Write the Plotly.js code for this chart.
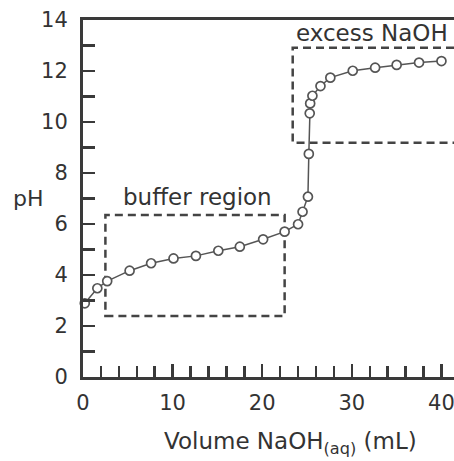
<!DOCTYPE html>
<html>
<head>
<meta charset="utf-8">
<script src="https://cdn.plot.ly/plotly-3.0.1.min.js"></script>
<style>html,body{margin:0;padding:0;background:#fff;}#chart{width:454px;height:461px;}</style>
</head>
<body>
<div id="chart"></div>
<script>
// Titration data
const volume = [0.2, 1.6, 2.7, 5.2, 7.6, 10.1, 12.6, 15.1, 17.5, 20.1, 22.5, 24.0, 24.5, 25.1, 25.2, 25.3, 25.35, 25.6, 26.5, 27.6, 30.1, 32.6, 35.0, 37.5, 40.0];
const pH     = [2.89, 3.48, 3.76, 4.17, 4.46, 4.65, 4.75, 4.95, 5.11, 5.40, 5.70, 5.99, 6.48, 7.07, 8.75, 10.34, 10.73, 11.03, 11.41, 11.74, 12.01, 12.13, 12.24, 12.33, 12.39];

// Region boxes: [xLeft, xRight, yBottom, yTop]
const bufferBox = [2.5, 22.5, 2.39, 6.35];
const excessBox = [23.4, 41.4, 9.19, 12.91];

const textColor = '#333333';
const lineColor = '#3a3a3a';
const fontFam = '"DejaVu Sans", sans-serif';

const trace = {
  x: volume, y: pH, type: 'scatter', mode: 'lines+markers',
  line: {color: '#555555', width: 1.5},
  marker: {symbol: 'circle', size: 9, color: '#ffffff', line: {color: '#555555', width: 1.7}},
  cliponaxis: false, hoverinfo: 'skip'
};

const dash = '8px,5px';
const layout = {
  width: 454, height: 461,
  margin: {l: 83, r: 0, t: 20, b: 84, pad: 0},
  paper_bgcolor: '#ffffff', plot_bgcolor: '#ffffff',
  showlegend: false,
  font: {family: fontFam, color: textColor, size: 21},
  xaxis: {
    range: [0, 41.4], showgrid: false, zeroline: false,
    showline: true, linecolor: lineColor, linewidth: 3, mirror: true,
    tickmode: 'linear', tick0: 0, dtick: 10,
    ticks: 'inside', ticklen: 13, tickwidth: 2.5, tickcolor: lineColor,
    ticklabelstandoff: 5, ticklabeloverflow: 'allow',
    minor: {tick0: 0, dtick: 2, ticks: 'inside', ticklen: 11, tickwidth: 2.5, tickcolor: lineColor},
    tickfont: {size: 21, color: textColor, family: fontFam}
  },
  yaxis: {
    range: [0, 14], showgrid: false, zeroline: false,
    showline: true, linecolor: lineColor, linewidth: 3, mirror: false,
    tickmode: 'linear', tick0: 0, dtick: 2,
    ticks: 'inside', ticklen: 12, tickwidth: 2.5, tickcolor: lineColor,
    ticklabelstandoff: 8,
    minor: {tick0: 0, dtick: 1, ticks: 'inside', ticklen: 12, tickwidth: 2.5, tickcolor: lineColor},
    tickfont: {size: 21, color: textColor, family: fontFam}
  },
  shapes: [
    {type: 'rect', xref: 'x', yref: 'y', x0: bufferBox[0], x1: bufferBox[1], y0: bufferBox[2], y1: bufferBox[3],
     line: {color: '#444444', width: 2.5, dash: dash}, layer: 'below'},
    {type: 'path', xref: 'x', yref: 'y',
     path: 'M ' + excessBox[1] + ',' + excessBox[3] + ' L ' + excessBox[0] + ',' + excessBox[3] + ' L ' + excessBox[0] + ',' + excessBox[2] + ' L ' + excessBox[1] + ',' + excessBox[2],
     line: {color: '#444444', width: 2.5, dash: dash}, layer: 'below'}
  ],
  annotations: [
    {text: 'buffer region', xref: 'x', yref: 'y', x: 12.8, y: 7.06, showarrow: false,
     font: {size: 23, color: textColor, family: fontFam}, xanchor: 'center', yanchor: 'middle'},
    {text: 'excess NaOH', xref: 'x', yref: 'y', x: 32.2, y: 13.5, showarrow: false,
     font: {size: 23, color: textColor, family: fontFam}, xanchor: 'center', yanchor: 'middle'},
    {text: 'pH', xref: 'paper', yref: 'paper', x: -0.148, y: 0.501, showarrow: false,
     font: {size: 22, color: textColor, family: fontFam}, xanchor: 'center', yanchor: 'middle'},
    {text: 'Volume NaOH<sub>(aq)</sub> (mL)', xref: 'paper', yref: 'paper', x: 0.558, y: -0.185, showarrow: false,
     font: {size: 23, color: textColor, family: fontFam}, xanchor: 'center', yanchor: 'middle'}
  ]
};

Plotly.newPlot('chart', [trace], layout, {displayModeBar: false, staticPlot: true});
</script>
</body>
</html>
